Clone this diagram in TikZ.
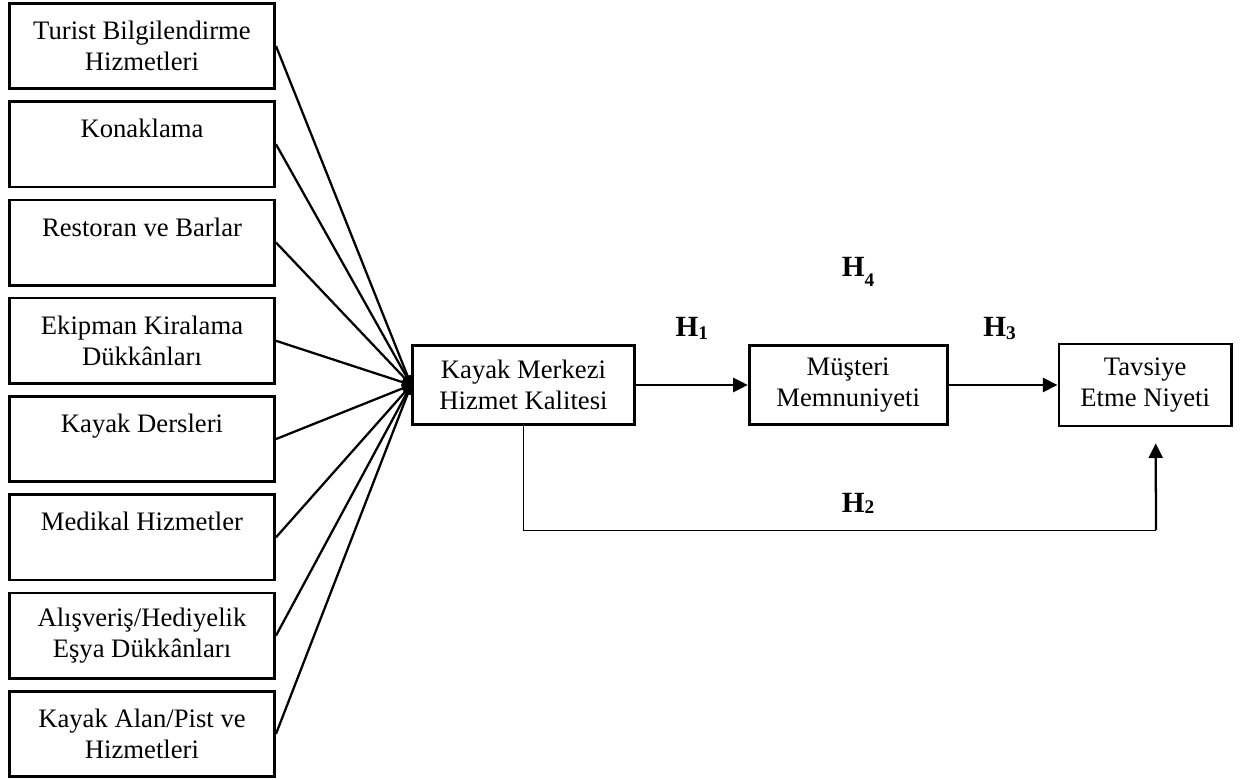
\documentclass[tikz,border=0pt]{standalone}
\usepackage{fontspec}
\setmainfont{Liberation Serif}
\usetikzlibrary{arrows.meta, positioning}

\newcommand{\hsub}[2][2pt]{\raisebox{-#1}{\fontsize{14.5}{15}\selectfont #2}}

\begin{document}
\begin{tikzpicture}[
  x=0.75pt, y=-0.75pt,
  font=\fontsize{20}{23.5}\selectfont,
  src/.style={draw, line width=2pt, minimum width=199pt, minimum height=64pt, align=center, inner sep=0pt},
  core/.style={draw, line width=2pt, minimum height=59.5pt, align=center, inner sep=0pt},
  ar/.style={-{Triangle[length=11pt, width=10.5pt]}, line width=2pt},
  fan/.style={-{Triangle[length=7pt, width=6pt]}, line width=1.7pt},
  hyp/.style={font=\fontsize{22}{26}\selectfont\bfseries, anchor=base, inner sep=0pt}
]
\useasboundingbox (0,0) rectangle (1246,780);
% service dimensions
\node[src] (s1) at (142,46) {Turist Bilgilendirme\\Hizmetleri};
\node[src, below=7.7pt of s1] (s2) {Konaklama\\\mbox{}};
\node[src, below=7.7pt of s2] (s3) {Restoran ve Barlar\\\mbox{}};
\node[src, below=7.7pt of s3] (s4) {Ekipman Kiralama\\Dükkânları};
\node[src, below=7.7pt of s4] (s5) {Kayak Dersleri\\\mbox{}};
\node[src, below=7.7pt of s5] (s6) {Medikal Hizmetler\\\mbox{}};
\node[src, below=7.7pt of s6] (s7) {Alışveriş/Hediyelik\\Eşya Dükkânları};
\node[src, below=7.7pt of s7] (s8) {Kayak Alan/Pist ve\\Hizmetleri};
% model
\node[core, minimum width=166.5pt] (k) at (523.5,385) {Kayak Merkezi\\Hizmet Kalitesi};
\node[core, minimum width=148.5pt, right=84pt of k] (m) {Müşteri\\Memnuniyeti};
\node[core, minimum width=129.5pt, minimum height=61.5pt, right=81.75pt of m] (t) {Tavsiye\\Etme Niyeti};
\foreach \s in {s1,s2,s3,s4,s5,s6,s7,s8}{\draw[fan] (\s.east) -- (k.west);}
\draw[ar] (k) -- node[hyp, yshift=36pt] {H\hsub{1}} (m);
\draw[ar] (m) -- node[hyp, xshift=-2.6pt, yshift=36pt] {H\hsub{3}} (t);
\coordinate (h2end) at ([xshift=7.9pt, yshift=-12pt]t.south);
\coordinate (h2low) at (1156,530);
\draw[line width=0.75pt] (k.south) |- (h2low);
\draw[ar, line width=1.7pt] (h2low) -- (h2end);
\node[hyp] (h2) at (858,512) {H\hsub[1pt]{2}};
\node[hyp] (h4) at (858,277) {H\hsub[7pt]{4}};
\end{tikzpicture}
\end{document}
